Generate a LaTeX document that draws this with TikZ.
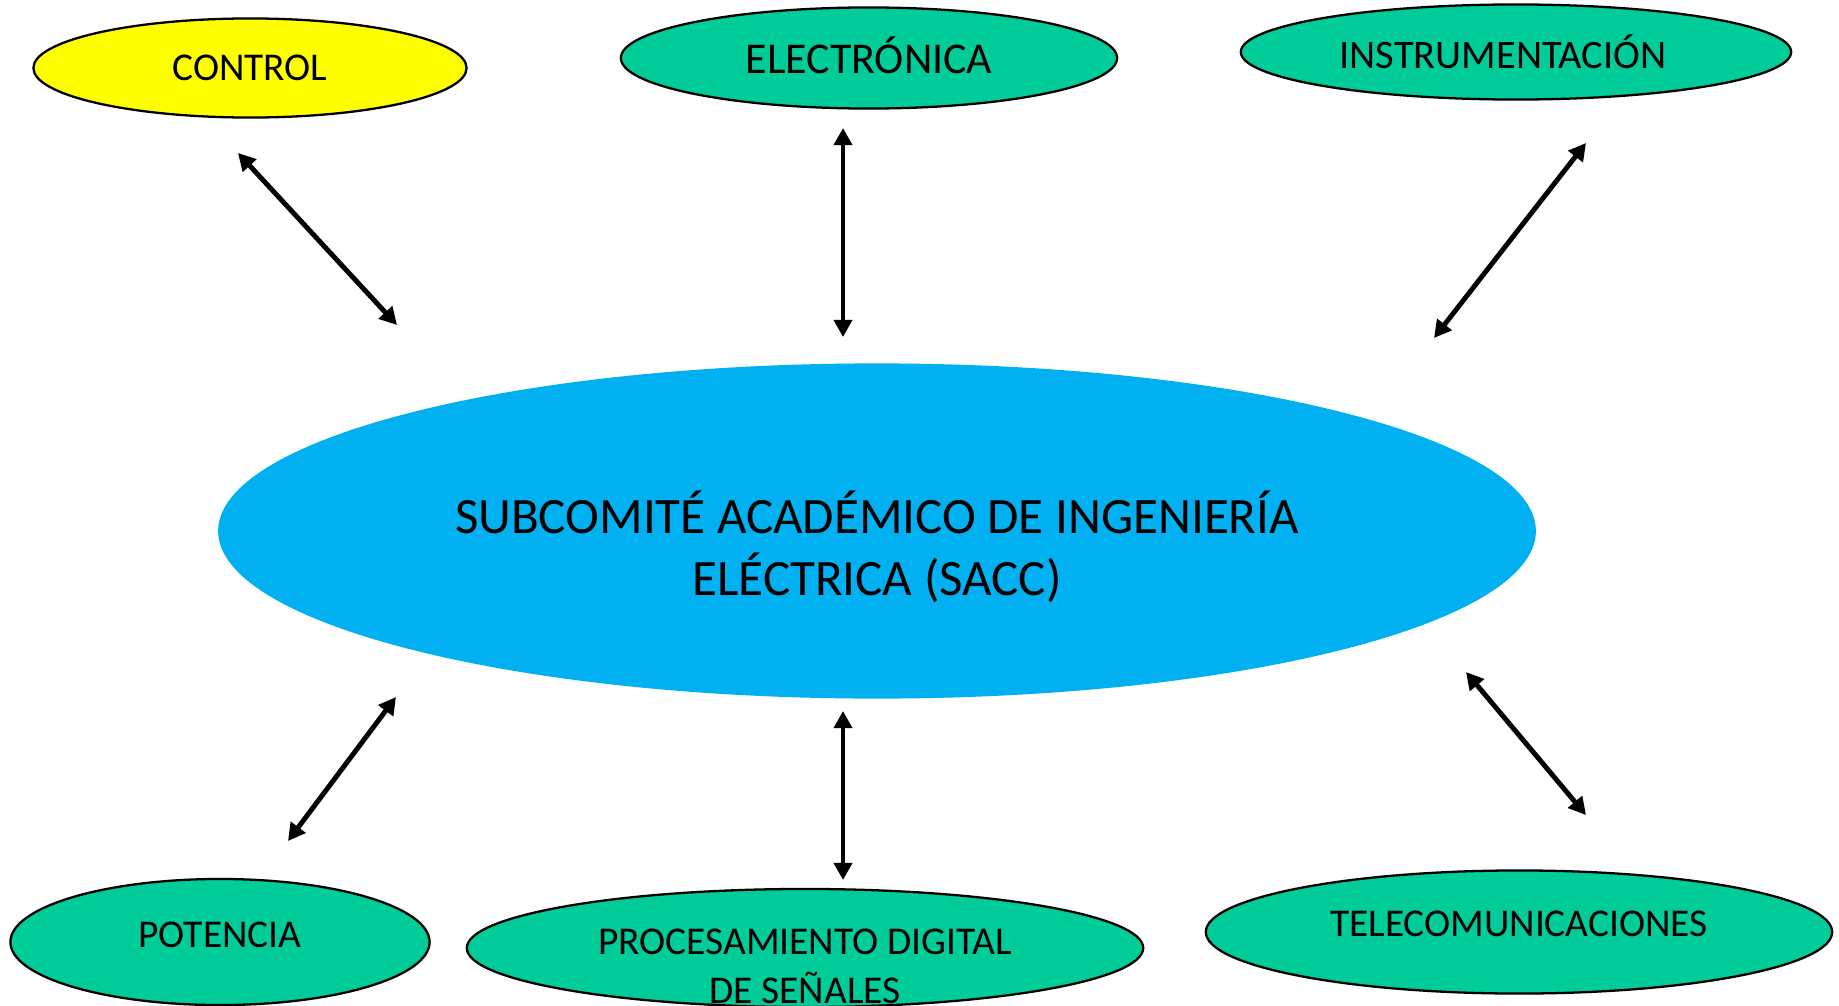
\documentclass[tikz,border=0pt]{standalone}
\usepackage{fontspec}
\setmainfont{Carlito}
\usetikzlibrary{shapes.geometric,arrows.meta}
\definecolor{areagreen}{HTML}{00CC99}
\definecolor{saccblue}{HTML}{00B0F0}
\definecolor{ctrlyellow}{HTML}{FFFF00}

\begin{document}
\begin{tikzpicture}[x=0.01cm,y=-0.01cm,
   area/.style={draw,ellipse,line width=0.65pt,fill=areagreen,inner sep=0pt},
   areatext/.style={font=\fontsize{11.2}{13.9}\selectfont,align=center},
   sacc/.style={ellipse,fill=saccblue,inner sep=0pt},
   sacctext/.style={font=\fontsize{14.5}{17.5}\selectfont,align=center},
   link/.style={line width=1.4pt,{Triangle[length=4.9pt,width=5.1pt]}-{Triangle[length=4.9pt,width=5.1pt]}}]
\path[use as bounding box,clip] (0,0) rectangle (1839,1006);

% central subcommittee
\node[sacc,minimum width=13.17cm,minimum height=3.35cm,
  label={[sacctext,yshift=-0.16cm]center:{SUBCOMITÉ ACADÉMICO DE INGENIERÍA\\ELÉCTRICA (SACC)}}]
  (sacc) at (877,531) {};

% areas
\node[area,fill=ctrlyellow,minimum width=4.33cm,minimum height=0.99cm,
  label={[areatext]center:CONTROL}] (control) at (250,68) {};
\node[area,minimum width=4.96cm,minimum height=1.01cm,
  label={[areatext,font=\fontsize{12.5}{15}\selectfont,yshift=0.03cm]center:ELECTRÓNICA}] (electronica) at (869,58) {};
\node[area,minimum width=5.50cm,minimum height=0.95cm,
  label={[areatext,font=\fontsize{11.5}{14}\selectfont,xshift=-0.13cm]center:INSTRUMENTACIÓN}] (instrumentacion) at (1516,52) {};
\node[area,minimum width=4.19cm,minimum height=1.26cm,
  label={[areatext,yshift=0.07cm]center:POTENCIA}] (potencia) at (220,942) {};
\node[area,minimum width=6.76cm,minimum height=1.18cm,
  label={[areatext,yshift=-0.18cm]center:{PROCESAMIENTO DIGITAL\\DE SEÑALES}}] (procesamiento) at (805,948) {};
\node[area,minimum width=6.26cm,minimum height=1.23cm,
  label={[areatext,yshift=0.08cm]center:TELECOMUNICACIONES}] (telecom) at (1519,932) {};

% free arrow ends
\coordinate (control-a) at (238,153);
\coordinate (control-b) at (397,325);
\coordinate (electronica-a) at (843,128);
\coordinate (electronica-b) at (843,337);
\coordinate (instrumentacion-a) at (1586,143);
\coordinate (instrumentacion-b) at (1434,338);
\coordinate (potencia-a) at (396,697);
\coordinate (potencia-b) at (288,841);
\coordinate (procesamiento-a) at (843,711);
\coordinate (procesamiento-b) at (843,880);
\coordinate (telecom-a) at (1466,672);
\coordinate (telecom-b) at (1586,815);

\draw[link] (control-a) -- (control-b);
\draw[link] (electronica-a) -- (electronica-b);
\draw[link] (instrumentacion-a) -- (instrumentacion-b);
\draw[link] (potencia-a) -- (potencia-b);
\draw[link] (procesamiento-a) -- (procesamiento-b);
\draw[link] (telecom-a) -- (telecom-b);
\end{tikzpicture}
\end{document}
